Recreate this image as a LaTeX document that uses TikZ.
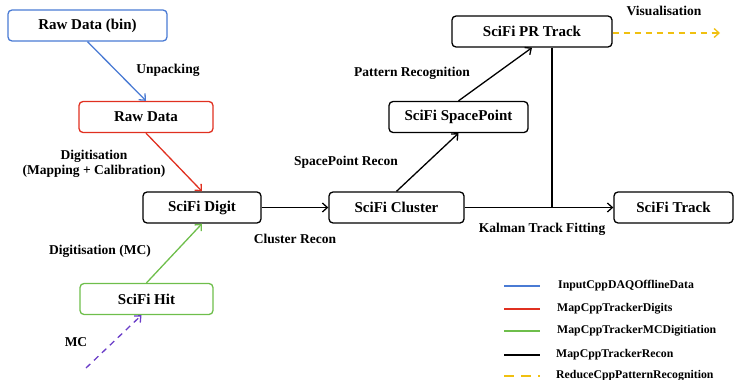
\documentclass[tikz,border=0pt]{standalone}
\usepackage{fontspec}
\setmainfont{Liberation Serif}
\usetikzlibrary{arrows.meta}
\begin{document}
\begin{tikzpicture}[x=1pt,y=-1pt]
\definecolor{daqblue}{RGB}{74,123,212}
\definecolor{digred}{RGB}{224,48,32}
\definecolor{mcgreen}{RGB}{110,190,75}
\definecolor{mcpurple}{RGB}{106,61,200}
\definecolor{visyellow}{RGB}{240,192,16}
\tikzstyle{every node}+=[font=\bfseries]
\tikzstyle{stage}=[draw, rounded corners=4pt, line width=1.3pt, minimum height=31pt, font=\bfseries\fontsize{15}{17}\selectfont]
\tikzstyle{lbl}=[font=\bfseries\fontsize{13.5}{15.5}\selectfont, align=center, inner sep=0pt]
\tikzstyle{flow}=[line width=1.3pt, -{Straight Barb[length=5pt,width=9pt]}]
\useasboundingbox (0,0) rectangle (734,380);
\node [stage, daqblue, minimum width=159pt] (rawbin) at (87.5,25.5) {\color{black}Raw Data (bin)};
\node [stage, digred, minimum width=134pt] (raw) at (146,117) {\color{black}Raw Data};
\node [stage, minimum width=118pt] (digit) at (202,207.5) {SciFi Digit};
\node [stage, mcgreen, minimum width=133pt] (hit) at (146.5,299) {\color{black}SciFi Hit};
\node [stage, minimum width=135pt] (cluster) at (396.5,207.5) {SciFi Cluster};
\node [stage, minimum width=139pt] (spoint) at (458.5,117) {SciFi SpacePoint};
\node [stage, minimum width=160pt] (prtrack) at (532,31.5) {SciFi PR Track};
\node [stage, minimum width=119pt] (track) at (673.5,207.5) {SciFi Track};
\coordinate (mcin) at (86,368);
\coordinate (visout) at (720,33);
\coordinate (kfit) at (552,207.5);
\draw [flow, daqblue] (rawbin.south) -- (raw.north);
\draw [flow, digred] (raw.south) -- (digit.north);
\draw [flow, mcgreen] (hit.north) -- (digit.south);
\draw [flow, mcpurple, dash pattern=on 6pt off 5pt] (mcin) -- ([xshift=-5pt]hit.south);
\draw [flow] (digit.east) -- (cluster.west);
\draw [flow] (cluster.north) -- (spoint.south);
\draw [flow] (spoint.north) -- (prtrack.south);
\draw [flow] (cluster.east) -- (track.west);
\draw [line width=1.3pt] (kfit |- prtrack.south) -- (kfit);
\draw [flow, visyellow, dash pattern=on 6pt off 5pt] (prtrack.east |- visout) -- (visout);
\node [lbl] (unpack) at (168,70) {Unpacking};
\node [lbl] (digitise) at (94,164) {Digitisation\\(Mapping + Calibration)};
\node [lbl] (digitmc) at (100,251) {Digitisation (MC)};
\node [lbl] (mc) at (76,342) {MC};
\node [lbl] (clrecon) at (295,239) {Cluster Recon};
\node [lbl] (sprecon) at (346,162) {SpacePoint Recon};
\node [lbl] (patrec) at (412,73) {Pattern Recognition};
\node [lbl] (visual) at (664,11) {Visualisation};
\node [lbl] (kalman) at (542,229) {Kalman Track Fitting};
\tikzstyle{key}=[line width=1.3pt]
\tikzstyle{keylbl}=[font=\bfseries\fontsize{11.8}{13}\selectfont, anchor=west, inner sep=0pt]
\draw [key, daqblue] (504,286) -- (540,286);
\draw [key, digred] (504,309) -- (540,309);
\draw [key, mcgreen] (504,331) -- (540,331);
\draw [key] (504,355) -- (540,355);
\draw [key, visyellow, dash pattern=on 10pt off 7pt] (504,376) -- (540,376);
\node [keylbl] (keydaq) at (558,286) {InputCppDAQOfflineData};
\node [keylbl] (keydig) at (557,309) {MapCppTrackerDigits};
\node [keylbl] (keymc) at (557,331) {MapCppTrackerMCDigitiation};
\node [keylbl] (keyrec) at (556,355) {MapCppTrackerRecon};
\node [keylbl] (keyvis) at (556,376) {ReduceCppPatternRecognition};
\end{tikzpicture}
\end{document}
